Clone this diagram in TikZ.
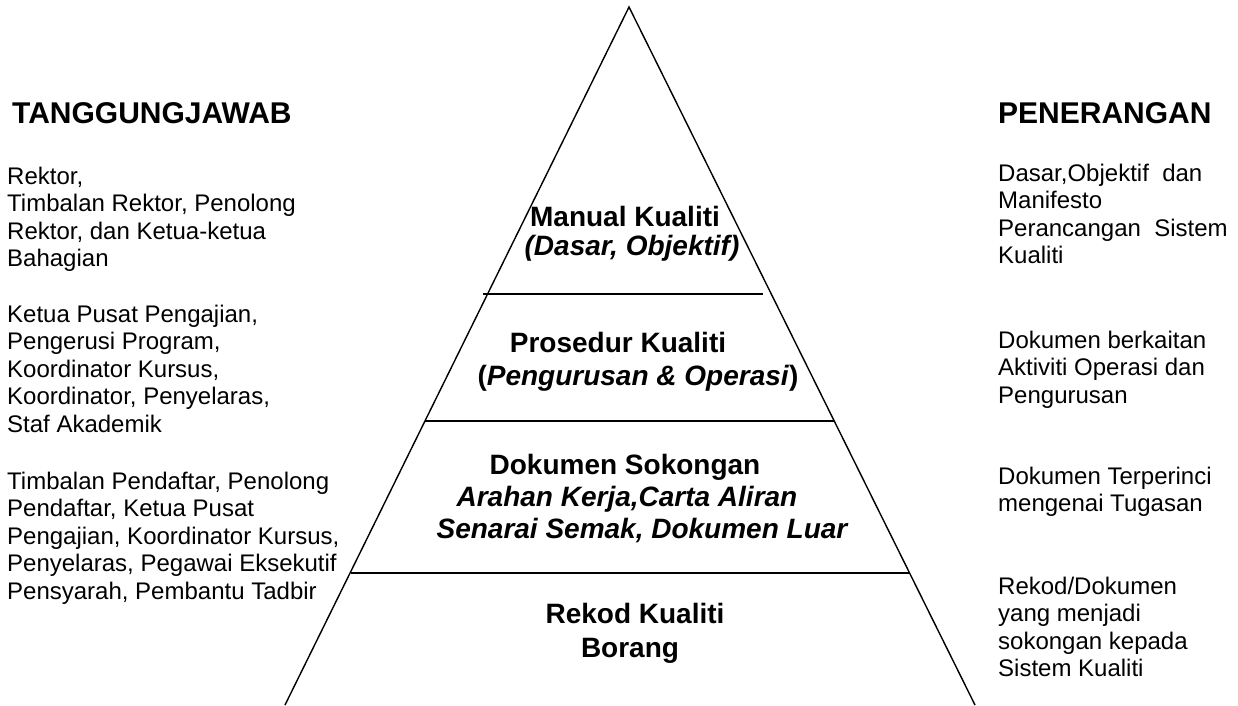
\documentclass[tikz,border=0pt]{standalone}
\usepackage{fontspec}
\setmainfont{Liberation Sans}
\newcommand{\lblock}[1]{\begin{tabular}[t]{@{}l@{}}#1\end{tabular}}
\begin{document}
\begin{tikzpicture}[x=1pt,y=-1pt,
  side/.style={line width=1.4pt},
  tier/.style={line width=1.6pt},
  body/.style={anchor=base west, inner sep=0pt, font=\fontsize{24}{27.5}\selectfont},
  head/.style={anchor=base west, inner sep=0pt, font=\bfseries\fontsize{30}{33}\selectfont},
  ptext/.style={anchor=base, inner sep=0pt, font=\bfseries\fontsize{28}{32}\selectfont},
  pitext/.style={anchor=base, inner sep=0pt, font=\bfseries\itshape\fontsize{28}{32}\selectfont}]
\useasboundingbox (0,0) rectangle (1238,705);
% pyramid
\coordinate (apex) at (629,7);
\coordinate (bl) at (285,705);
\coordinate (br) at (975,705);
\draw[side] (bl) -- (apex) -- (br);
\coordinate (l1a) at (483,294); \coordinate (l1b) at (763,294);
\coordinate (l2a) at (425,421); \coordinate (l2b) at (834,421);
\coordinate (l3a) at (351,573); \coordinate (l3b) at (909,573);
\draw[tier] (l1a) -- (l1b);
\draw[tier] (l2a) -- (l2b);
\draw[tier] (l3a) -- (l3b);
% headings
\node[head] (hl) at (12,123) {TANGGUNGJAWAB};
\node[head] (hr) at (998,123) {PENERANGAN};
% pyramid texts
\node[ptext] (t1a) at (625,226) {Manual Kualiti};
\node[pitext] (t1b) at (632,255) {(Dasar, Objektif)};
\node[ptext] (t2a) at (618,352) {Prosedur Kualiti};
\node[ptext] (t2b) at (638,385) {(\textit{Pengurusan \& Operasi})};
\node[ptext] (t3a) at (625,474) {Dokumen Sokongan};
\node[pitext] (t3b) at (627,506) {Arahan Kerja,Carta Aliran};
\node[pitext] (t3c) at (642,538) {Senarai Semak, Dokumen Luar};
\node[ptext] (t4a) at (635,623) {Rekod Kualiti};
\node[ptext] (t4b) at (630,657) {Borang};
% left texts
\node[body] (r1) at (7,184) {\lblock{Rektor,\\Timbalan Rektor, Penolong\\Rektor, dan Ketua-ketua\\Bahagian}};
\node[body] (r2) at (7,322) {\lblock{Ketua Pusat Pengajian,\\Pengerusi Program,\\Koordinator Kursus,\\Koordinator, Penyelaras,\\Staf Akademik}};
\node[body] (r3) at (7,489) {\lblock{Timbalan Pendaftar, Penolong\\Pendaftar, Ketua Pusat\\Pengajian, Koordinator Kursus,\\Penyelaras, Pegawai Eksekutif\\Pensyarah, Pembantu Tadbir}};
% right texts
\node[body] (d1) at (998,181) {\lblock{Dasar,Objektif~~dan\\Manifesto\\Perancangan~~Sistem\\Kualiti}};
\node[body] (d2) at (998,348) {\lblock{Dokumen berkaitan\\Aktiviti Operasi dan\\Pengurusan}};
\node[body] (d3) at (998,484) {\lblock{Dokumen Terperinci\\mengenai Tugasan}};
\node[body] (d4) at (998,594) {\lblock{Rekod/Dokumen\\yang menjadi\\sokongan kepada\\Sistem Kualiti}};
\end{tikzpicture}
\end{document}
